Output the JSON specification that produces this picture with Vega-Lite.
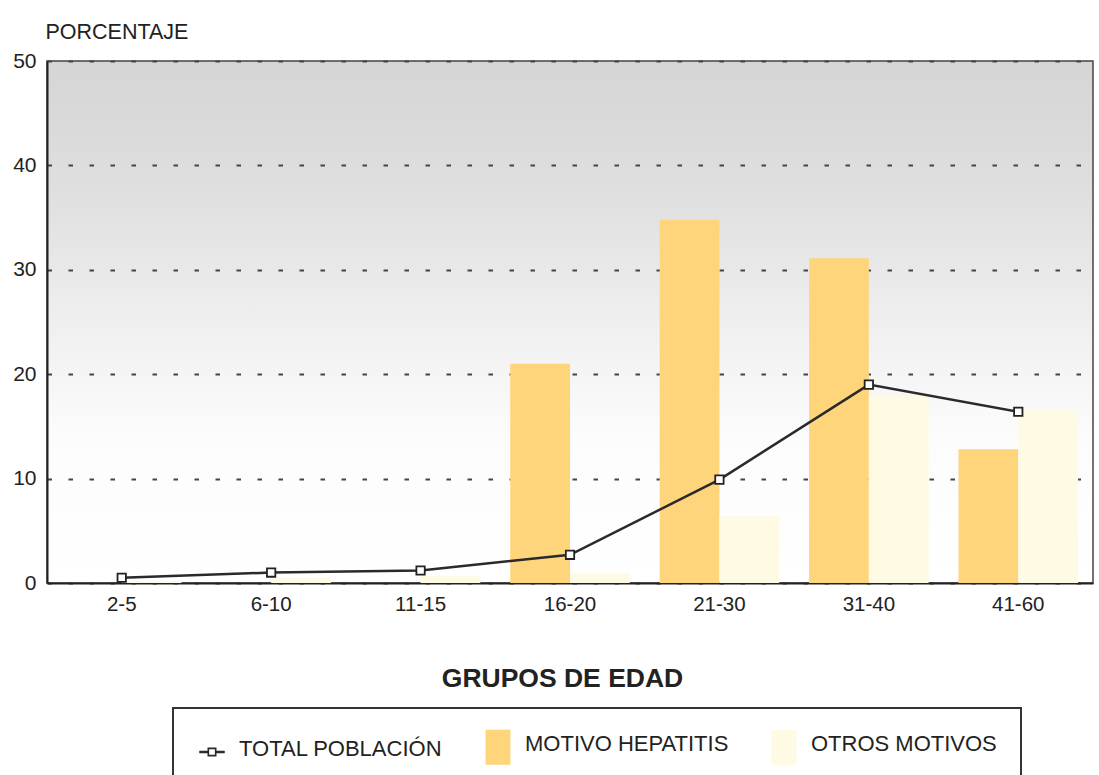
{
  "$schema": "https://vega.github.io/schema/vega-lite/v6.json",
  "width": 1046,
  "height": 522,
  "autosize": {"type": "none"},
  "padding": {"left": 47, "top": 61, "right": 6, "bottom": 192},
  "background": "#ffffff",
  "config": {
    "font": "Liberation Sans",
    "view": {
      "fill": {
        "gradient": "linear",
        "x1": 0, "y1": 0, "x2": 0, "y2": 1,
        "stops": [
          {"offset": 0, "color": "#d5d5d5"},
          {"offset": 0.25, "color": "#dfdfdf"},
          {"offset": 0.5, "color": "#efefef"},
          {"offset": 0.72, "color": "#fcfcfc"},
          {"offset": 1, "color": "#ffffff"}
        ]
      },
      "stroke": "#444444",
      "strokeWidth": 1.5
    }
  },
  "datasets": {
    "barras": [
      {"grupo": "2-5", "serie": "MOTIVO HEPATITIS", "valor": 0},
      {"grupo": "2-5", "serie": "OTROS MOTIVOS", "valor": 0.2},
      {"grupo": "6-10", "serie": "MOTIVO HEPATITIS", "valor": 0},
      {"grupo": "6-10", "serie": "OTROS MOTIVOS", "valor": 0.5},
      {"grupo": "11-15", "serie": "MOTIVO HEPATITIS", "valor": 0},
      {"grupo": "11-15", "serie": "OTROS MOTIVOS", "valor": 0.7},
      {"grupo": "16-20", "serie": "MOTIVO HEPATITIS", "valor": 21.0},
      {"grupo": "16-20", "serie": "OTROS MOTIVOS", "valor": 0.9},
      {"grupo": "21-30", "serie": "MOTIVO HEPATITIS", "valor": 34.8},
      {"grupo": "21-30", "serie": "OTROS MOTIVOS", "valor": 6.4},
      {"grupo": "31-40", "serie": "MOTIVO HEPATITIS", "valor": 31.1},
      {"grupo": "31-40", "serie": "OTROS MOTIVOS", "valor": 17.9},
      {"grupo": "41-60", "serie": "MOTIVO HEPATITIS", "valor": 12.8},
      {"grupo": "41-60", "serie": "OTROS MOTIVOS", "valor": 16.6}
    ],
    "total": [
      {"grupo": "2-5", "valor": 0.5},
      {"grupo": "6-10", "valor": 1.0},
      {"grupo": "11-15", "valor": 1.2},
      {"grupo": "16-20", "valor": 2.7},
      {"grupo": "21-30", "valor": 9.9},
      {"grupo": "31-40", "valor": 19.0},
      {"grupo": "41-60", "valor": 16.4}
    ]
  },
  "layer": [
    {
      "data": {"name": "barras"},
      "mark": {"type": "bar"},
      "encoding": {
        "x": {
          "field": "grupo",
          "type": "nominal",
          "sort": ["2-5", "6-10", "11-15", "16-20", "21-30", "31-40", "41-60"],
          "scale": {"paddingInner": 0.2, "paddingOuter": 0.1},
          "axis": {
            "title": "GRUPOS DE EDAD",
            "titleFontSize": 26.5,
            "titleFontWeight": "bold",
            "titleColor": "#222222",
            "titleBaseline": "alphabetic",
            "titleAlign": "center",
            "titleX": 515,
            "titleY": 103,
            "labelAngle": 0,
            "labelFontSize": 20.5,
            "labelColor": "#222222",
            "labelPadding": 11,
            "ticks": false,
            "domainColor": "#222222",
            "domainWidth": 2
          }
        },
        "xOffset": {
          "field": "serie",
          "type": "nominal",
          "sort": ["MOTIVO HEPATITIS", "OTROS MOTIVOS"]
        },
        "y": {
          "field": "valor",
          "type": "quantitative",
          "scale": {"domain": [0, 50], "nice": false},
          "axis": {
            "values": [0, 10, 20, 30, 40, 50],
            "title": "PORCENTAJE",
            "titleAngle": 0,
            "titleAlign": "left",
            "titleBaseline": "alphabetic",
            "titleX": -2,
            "titleY": -23,
            "titleFontSize": 21.5,
            "titleFontWeight": "normal",
            "titleColor": "#222222",
            "labelFontSize": 21,
            "labelColor": "#222222",
            "labelPadding": 11,
            "ticks": false,
            "domainColor": "#222222",
            "domainWidth": 2,
            "grid": true,
            "gridDash": [4.5, 16.5],
            "gridColor": "#454545",
            "gridWidth": 1.8
          }
        },
        "color": {
          "field": "serie",
          "type": "nominal",
          "scale": {
            "domain": ["TOTAL POBLACIÓN", "MOTIVO HEPATITIS", "OTROS MOTIVOS"],
            "range": ["#2a2a2a", "#ffd57c", "#fffae3"]
          },
          "legend": {
            "orient": "none",
            "legendX": 126,
            "legendY": 647,
            "direction": "horizontal",
            "title": null,
            "padding": 24,
            "strokeColor": "#333333",
            "fillColor": "#ffffff",
            "labelFontSize": 22,
            "labelColor": "#222222",
            "labelOffset": 12,
            "labelLimit": 400,
            "columnPadding": 40,
            "symbolSize": 900,
            "encode": {
              "legend": {"update": {"strokeWidth": {"value": 2}}},
              "labels": {"update": {"dy": {"value": -3}}},
              "symbols": {
                "update": {
                  "shape": {"signal": "datum.value === 'TOTAL POBLACIÓN' ? 'M-0.85,-0.08H-0.3V0.08H-0.85Z M0.3,-0.08H0.85V0.08H0.3Z M-0.3,-0.3H0.3V0.3H-0.3Z M-0.19,-0.19V0.19H0.19V-0.19Z' : 'M-0.83,-1.17H0.83V1.17H-0.83Z'"},
                  "fill": {"signal": "datum.value === 'TOTAL POBLACIÓN' ? '#2a2a2a' : (datum.value === 'MOTIVO HEPATITIS' ? '#ffd57c' : '#fffae3')"},
                  "stroke": {"value": "transparent"},
                  "strokeWidth": {"value": 0},
                  "opacity": {"value": 1},
                  "fillOpacity": {"value": 1}
                }
              }
            }
          }
        }
      }
    },
    {
      "data": {"name": "total"},
      "mark": {"type": "line", "strokeWidth": 2.5},
      "encoding": {
        "x": {"field": "grupo", "type": "nominal", "sort": ["2-5", "6-10", "11-15", "16-20", "21-30", "31-40", "41-60"]},
        "y": {"field": "valor", "type": "quantitative"},
        "color": {"datum": "TOTAL POBLACIÓN"}
      }
    },
    {
      "data": {"name": "total"},
      "mark": {"type": "point", "shape": "square", "filled": true, "fill": "#ffffff", "stroke": "#222222", "strokeWidth": 1.8, "size": 70, "opacity": 1},
      "encoding": {
        "x": {"field": "grupo", "type": "nominal", "sort": ["2-5", "6-10", "11-15", "16-20", "21-30", "31-40", "41-60"]},
        "y": {"field": "valor", "type": "quantitative"}
      }
    }
  ]
}
